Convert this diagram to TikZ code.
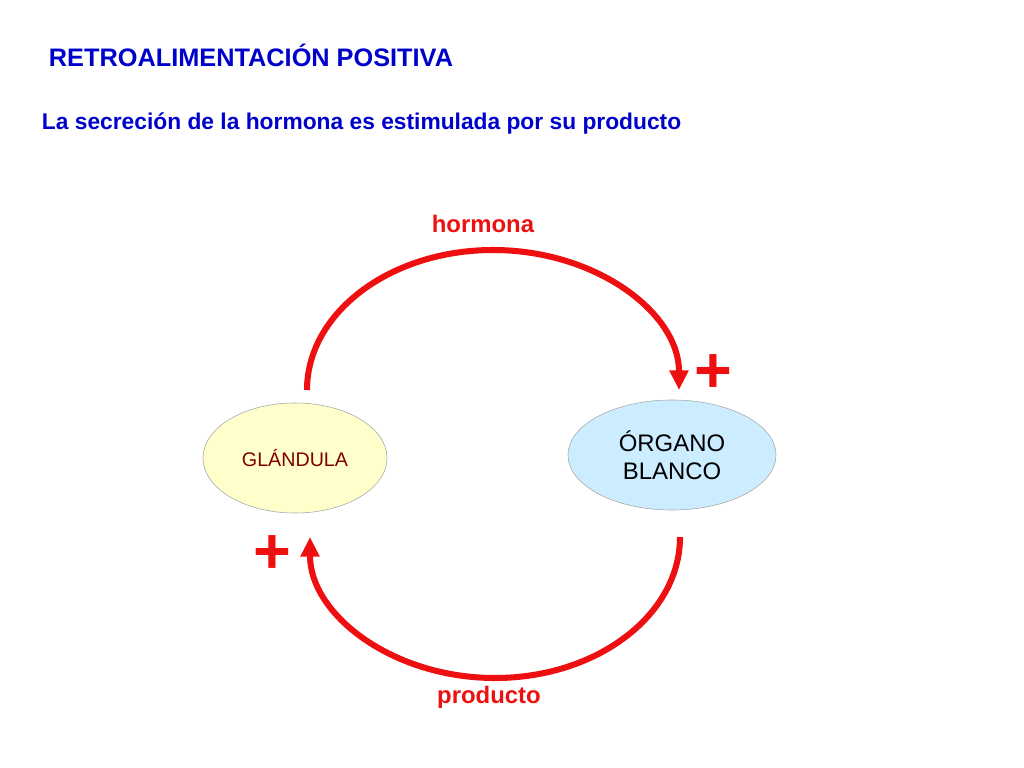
\documentclass[tikz,border=0pt]{standalone}
\usepackage{fontspec}
\setmainfont{Liberation Sans}
\usetikzlibrary{shapes.geometric,arrows.meta,positioning}
\definecolor{titleblue}{RGB}{0,0,204}
\definecolor{loopred}{RGB}{238,16,16}
\definecolor{glandfill}{RGB}{255,255,204}
\definecolor{organfill}{RGB}{204,236,255}
\definecolor{glandtext}{RGB}{128,0,0}
\tikzset{
  organ/.style={ellipse, draw=gray!70, fill=#1, minimum width=5.2cm, minimum height=2.75cm, align=center},
  loop/.style={draw=loopred, line width=4.3pt, -{Triangle[length=14pt,width=13pt]}},
  looplabel/.style={text=loopred, font=\bfseries\fontsize{17}{20}\selectfont},
  plus/.style={text=loopred, font=\bfseries\fontsize{46}{46}\selectfont}
}
\begin{document}
\begin{tikzpicture}[x=0.025cm,y=-0.025cm]
  \useasboundingbox (0,0) rectangle (1024,768);
  \node (title)[anchor=west, text=titleblue, font=\bfseries\fontsize{18}{21}\selectfont]
    at (44,55) {RETROALIMENTACIÓN POSITIVA};
  \node (subtitle)[anchor=west, text=titleblue, font=\bfseries\fontsize{16.2}{19}\selectfont]
    at (37,124) {La secreción de la hormona es estimulada por su producto};
  \node (gland)[organ=glandfill, minimum width=4.6cm, text=glandtext,
    font=\fontsize{14}{17}\selectfont] at (295,458) {GLÁNDULA};
  \node (organ)[organ=organfill, text=black,
    font=\fontsize{17}{20}\selectfont] at (672,455) {ÓRGANO\\BLANCO};
  \coordinate (hstart) at (307,390);
  \coordinate (pstart) at (680,537);
  % Draw loops
  \draw[loop] (hstart) arc[start angle=180, end angle=0, x radius=186, y radius=-140];
  \draw[loop] (pstart) arc[start angle=0, end angle=-180, x radius=185, y radius=-141];
  \node (hormona)[looplabel] at (483,224) {hormona};
  \node (producto)[looplabel] at (489,697) {producto};
  \node (plusorgan)[plus] at (713,374) {+};
  \node (plusgland)[plus] at (272,555) {+};
\end{tikzpicture}
\end{document}
